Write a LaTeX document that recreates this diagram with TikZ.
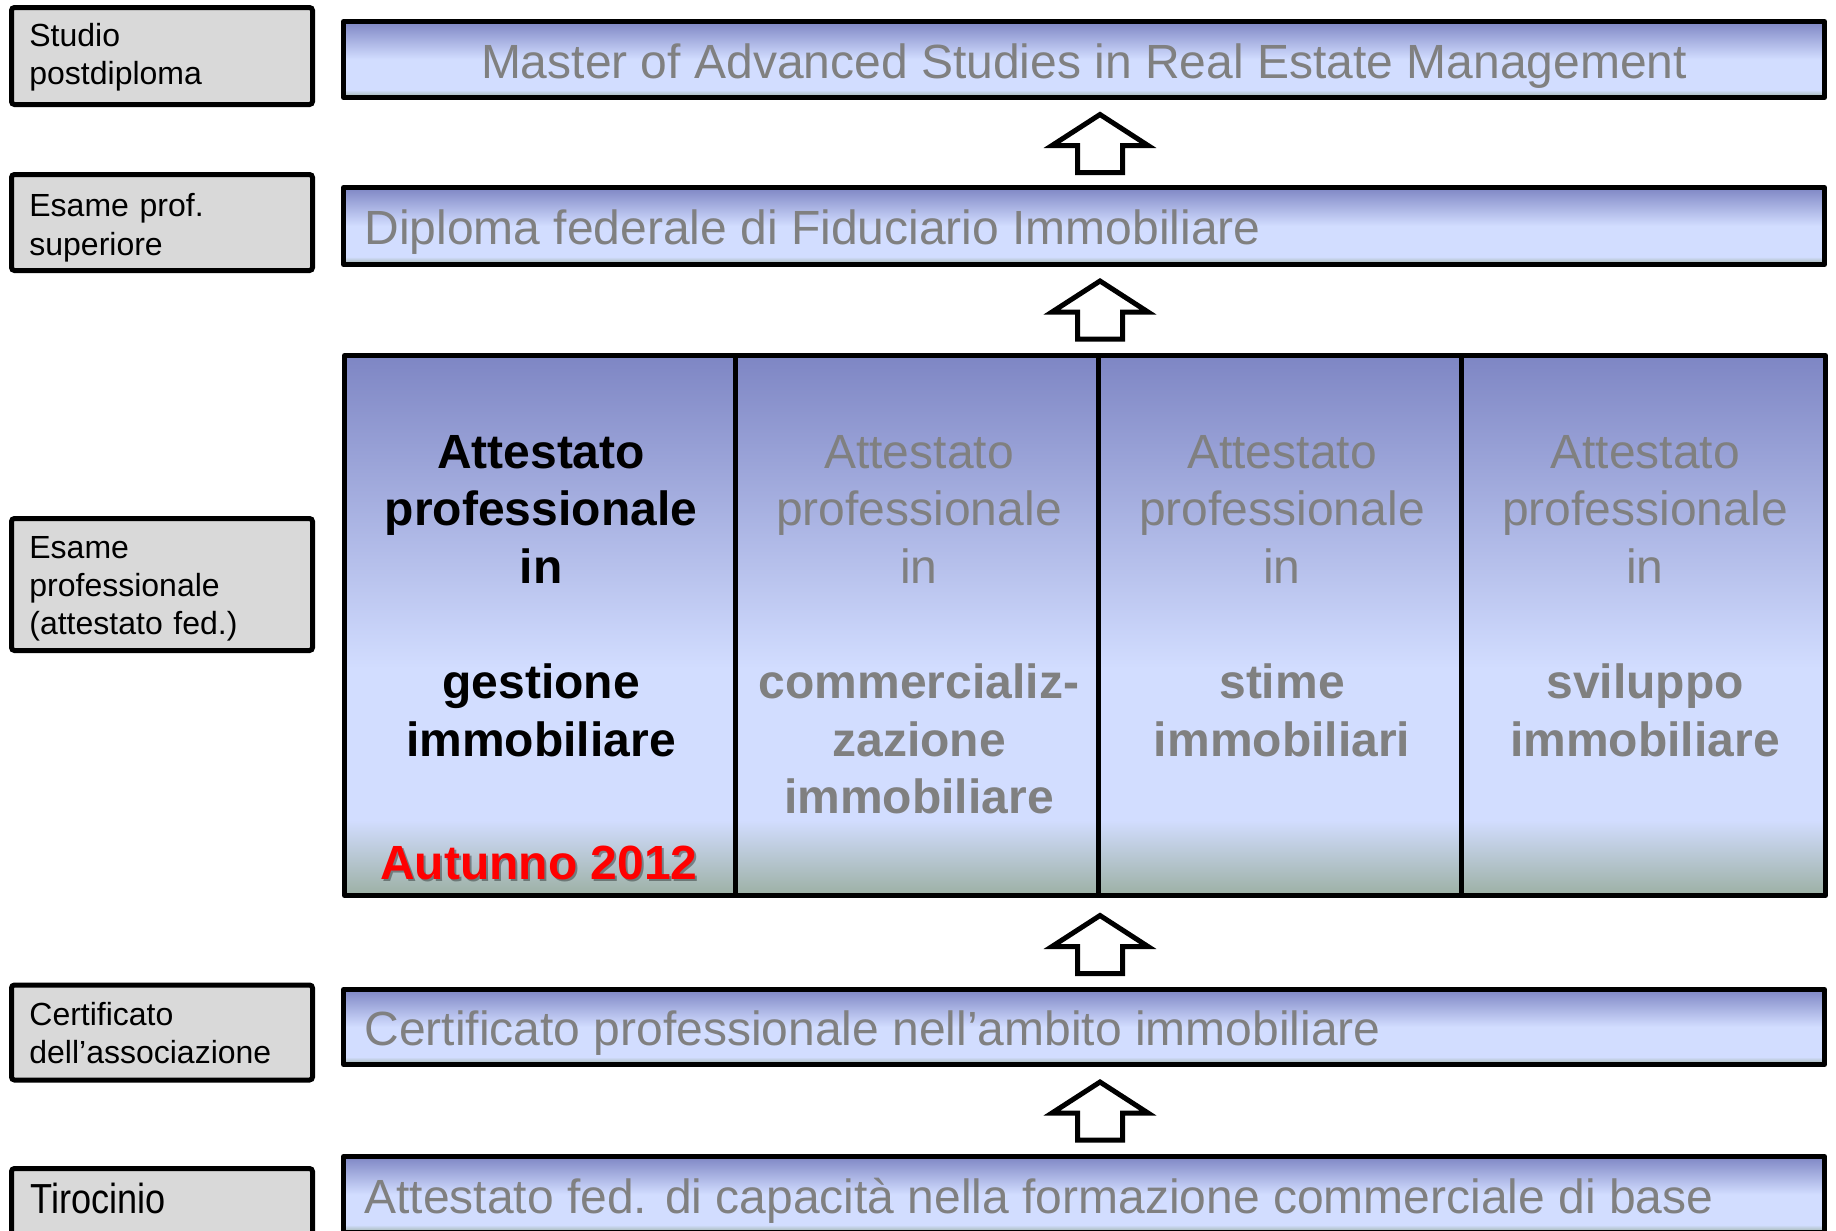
\documentclass[tikz,border=0pt]{standalone}
\usepackage{fontspec}
\usepackage{graphicx}
\setmainfont{Liberation Sans}
\definecolor{btop}{RGB}{126,134,196}
\definecolor{blt}{RGB}{210,221,255}
\definecolor{bgr}{RGB}{156,176,164}
\definecolor{txtgrey}{RGB}{128,128,128}
\definecolor{boxgrey}{RGB}{217,217,217}
\definecolor{autred}{RGB}{255,0,0}
\pgfdeclareverticalshading{barshade}{100bp}{color(0bp)=(bgr); color(25bp)=(bgr); color(30bp)=(blt); color(50bp)=(blt); color(75bp)=(btop); color(100bp)=(btop)}
\pgfdeclareverticalshading{bigshade}{100bp}{color(0bp)=(bgr); color(25bp)=(bgr); color(32bp)=(blt); color(46bp)=(blt); color(75bp)=(btop); color(100bp)=(btop)}
\tikzset{
  leftbox/.style={draw=black, line width=2.5pt, fill=boxgrey, rounded corners=1.5pt,
    minimum width=150.5pt, inner sep=0pt},
  lefttext/.style={inner sep=0pt, text width=140pt, align=left, anchor=base west,
    font=\fontsize{16}{19.15}\selectfont},
  barbox/.style={draw=black, line width=2.5pt, shading=barshade, line join=round,
    minimum width=740.5pt, inner sep=0pt},
  bartext/.style={inner sep=0pt, text=txtgrey, font=\fontsize{24}{28.8}\selectfont},
  coltext/.style={inner sep=0pt, text width=175pt, align=center, anchor=north,
    font=\fontsize{24}{28.8}\selectfont},
  arrowpic/.pic={\draw[line width=2.5pt, fill=white, line join=miter, miter limit=10]
     (0,-29) -- (48,2) -- (22.5,2) -- (22.5,29) -- (-22.5,29) -- (-22.5,2) -- (-48,2) -- cycle;}
}
\begin{document}
\begin{tikzpicture}[x=0.5pt,y=-0.5pt]
\useasboundingbox (0,0) rectangle (1836,1231);
\clip (0,0) rectangle (1836,1231);
\fill[white] (0,0) rectangle (1836,1231);

% left boxes
\node[leftbox, minimum height=48.5pt] (l1) at (162,56) {};
\node[leftbox, minimum height=48pt] (l2) at (162,222.5) {};
\node[leftbox, minimum height=66pt] (l3) at (162,584.5) {};
\node[leftbox, minimum height=47.5pt] (l4) at (162,1032.5) {};
\node[leftbox, minimum height=48pt] (l5) at (162,1216.5) {};
\node[lefttext] (l1t) at (29,46.7) {Studio\\postdiploma};
\node[lefttext] (l2t) at (29,216.7) {Esame prof.\\superiore};
\node[lefttext] (l3t) at (29,558.3) {Esame\\professionale\\(attestato fed.)};
\node[lefttext] (l4t) at (29,1025) {Certificato\\dell’associazione};
\node[anchor=base west, inner sep=0pt, font=\fontsize{21}{25}\selectfont] (l5t) at (30,1213) {\scalebox{0.86}[1]{Tirocinio}};

% bars
\node[barbox, minimum height=38pt] (b1) at (1084,59.5) {};
\node[barbox, minimum height=38.5pt] (b2) at (1084,226) {};
\node[barbox, minimum height=37.5pt] (b4) at (1084,1027) {};
\node[barbox, minimum height=38pt] (b5) at (1084,1194.5) {};

\node[bartext, anchor=base] (t1) at (1084,78) {Master of Advanced Studies in Real Estate Management};
\node[bartext, anchor=base west] (t2) at (364,244) {Diploma federale di Fiduciario Immobiliare};
\node[bartext, anchor=base west] (t4) at (364,1045) {Certificato professionale nell’ambito immobiliare};
\node[bartext, anchor=base west] (t5) at (364,1213) {Attestato fed. di capacità nella formazione commerciale di base};

% big box
\node[draw=black, line width=2.5pt, shading=bigshade, line join=round, minimum width=740.5pt,
  minimum height=270pt, inner sep=0pt] (main) at (1085,625.5) {};
\draw[line width=2.5pt] (735,355.5) -- (735,895.5);
\draw[line width=2.5pt] (1098,355.5) -- (1098,895.5);
\draw[line width=2.5pt] (1461,355.5) -- (1461,895.5);

\node[coltext, font=\fontsize{24}{28.8}\selectfont\bfseries] (c1) at (541,434.6)
  {Attestato\\professionale\\in\\[28.8pt]gestione\\immobiliare};
\node[coltext, text=txtgrey] (c2) at (919,434.6)
  {Attestato\\professionale\\in\\[28.8pt]{\bfseries commercializ-}\\{\bfseries zazione}\\{\bfseries immobiliare}};
\node[coltext, text=txtgrey] (c3) at (1282,434.6)
  {Attestato\\professionale\\in\\[28.8pt]{\bfseries stime}\\{\bfseries immobiliari}};
\node[coltext, text=txtgrey] (c4) at (1645,434.6)
  {Attestato\\professionale\\in\\[28.8pt]{\bfseries sviluppo}\\{\bfseries immobiliare}};

\node[inner sep=0pt, text=black, opacity=0.35, font=\fontsize{24}{28.8}\selectfont\bfseries] (autsh) at (541,865) {Autunno 2012};
\node[inner sep=0pt, text=autred, font=\fontsize{24}{28.8}\selectfont\bfseries] (aut) at (539,863) {Autunno 2012};

% arrows
\pic at (1100,143.5) {arrowpic};
\pic at (1100,310) {arrowpic};
\pic at (1100,944.5) {arrowpic};
\pic at (1100,1111) {arrowpic};
\end{tikzpicture}
\end{document}
